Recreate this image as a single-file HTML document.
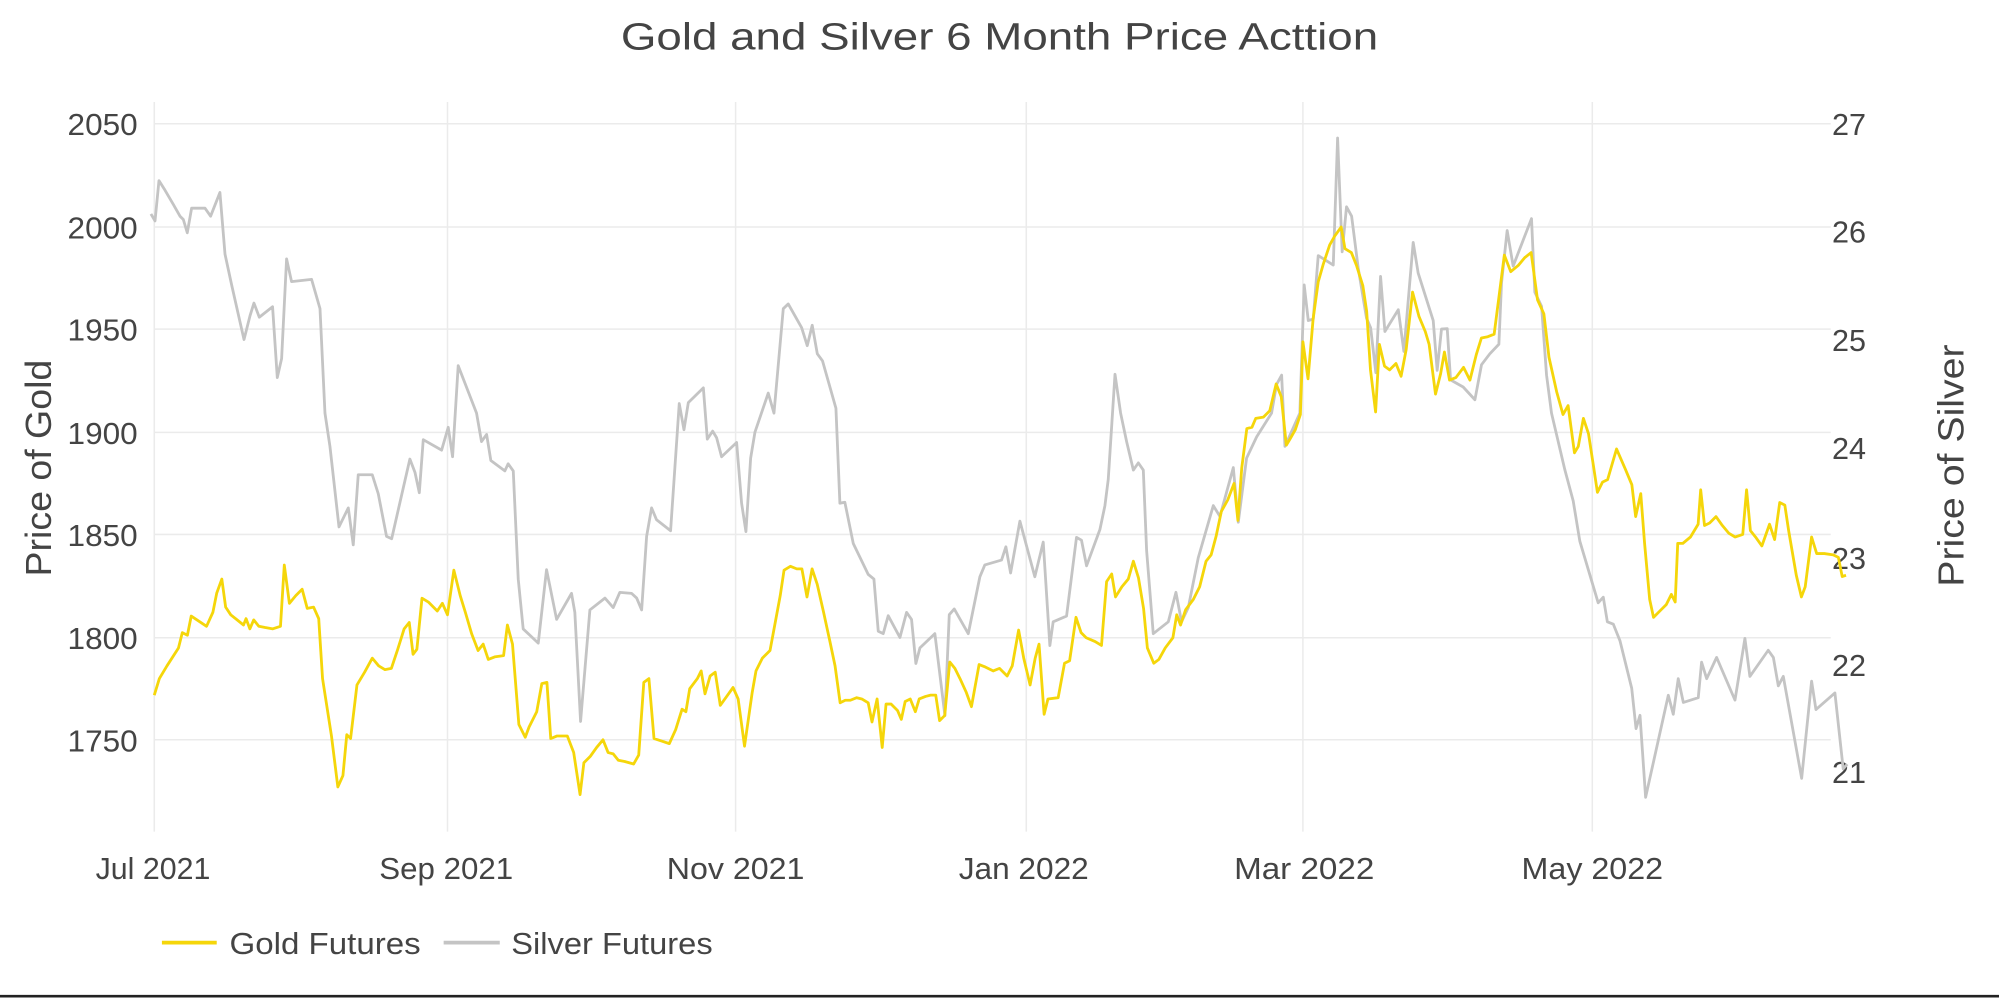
<!DOCTYPE html>
<html><head><meta charset="utf-8"><style>
html,body{margin:0;padding:0;background:#fff;}
svg{display:block;}
text{font-family:"Liberation Sans",sans-serif;fill:#444;}
</style></head><body>
<svg width="1999" height="1000" viewBox="0 0 1568 784" preserveAspectRatio="none" xmlns="http://www.w3.org/2000/svg">
<rect width="1568" height="784" fill="#fff"/>
<text x="784" y="39" font-size="30" text-anchor="middle" textLength="594" lengthAdjust="spacingAndGlyphs">Gold and Silver 6 Month Price Acttion</text>
<g stroke="#ebebeb" stroke-width="1.2">
<line x1="121" y1="97" x2="1436" y2="97"/><line x1="121" y1="178" x2="1436" y2="178"/><line x1="121" y1="258" x2="1436" y2="258"/><line x1="121" y1="339" x2="1436" y2="339"/><line x1="121" y1="419" x2="1436" y2="419"/><line x1="121" y1="500" x2="1436" y2="500"/><line x1="121" y1="580" x2="1436" y2="580"/>
<line x1="121" y1="80" x2="121" y2="652"/><line x1="351" y1="80" x2="351" y2="652"/><line x1="577" y1="80" x2="577" y2="652"/><line x1="805" y1="80" x2="805" y2="652"/><line x1="1022" y1="80" x2="1022" y2="652"/><line x1="1249" y1="80" x2="1249" y2="652"/>
</g>
<g font-size="24" text-anchor="end">
<text x="108" y="106" textLength="55" lengthAdjust="spacingAndGlyphs">2050</text><text x="108" y="187" textLength="55" lengthAdjust="spacingAndGlyphs">2000</text><text x="108" y="267" textLength="55" lengthAdjust="spacingAndGlyphs">1950</text><text x="108" y="348" textLength="55" lengthAdjust="spacingAndGlyphs">1900</text><text x="108" y="428" textLength="55" lengthAdjust="spacingAndGlyphs">1850</text><text x="108" y="509" textLength="55" lengthAdjust="spacingAndGlyphs">1800</text><text x="108" y="589" textLength="55" lengthAdjust="spacingAndGlyphs">1750</text>
</g>
<g font-size="24">
<text x="1437" y="106">27</text><text x="1437" y="190">26</text><text x="1437" y="275">25</text><text x="1437" y="360">24</text><text x="1437" y="446">23</text><text x="1437" y="530">22</text><text x="1437" y="614">21</text>
</g>
<g font-size="24" text-anchor="middle">
<text x="120" y="689" textLength="90" lengthAdjust="spacingAndGlyphs">Jul 2021</text><text x="350" y="689" textLength="105" lengthAdjust="spacingAndGlyphs">Sep 2021</text><text x="577" y="689" textLength="108" lengthAdjust="spacingAndGlyphs">Nov 2021</text><text x="803" y="689" textLength="102" lengthAdjust="spacingAndGlyphs">Jan 2022</text><text x="1023" y="689" textLength="110" lengthAdjust="spacingAndGlyphs">Mar 2022</text><text x="1249" y="689" textLength="111" lengthAdjust="spacingAndGlyphs">May 2022</text>
</g>
<text font-size="28" text-anchor="middle" transform="translate(40,367) rotate(-90)" textLength="170" lengthAdjust="spacingAndGlyphs">Price of Gold</text>
<text font-size="28" text-anchor="middle" transform="translate(1540,365) rotate(-90)" textLength="190" lengthAdjust="spacingAndGlyphs">Price of Silver</text>
<polyline fill="none" stroke="#c4c4c4" stroke-width="2.2" stroke-linejoin="round" points="118.4,167.7 121.6,173.2 124.7,141.6 129.4,149.1 135.9,160.2 141.2,169.5 143.8,172.1 146.9,182.5 150.3,163.2 160.8,163.2 165.2,169.5 172.5,150.9 176.5,199.3 181.7,223.4 191.4,266.2 196.1,247.6 199.2,237.6 203.4,248.7 213.8,240.5 217.5,296 220.9,281.1 224.8,203 228.7,220.8 244.4,219 251,242 254.9,323.9 258.8,349.9 265.9,413.1 273.2,398.2 277.1,427.2 281,372.2 292,372.2 296.7,387.1 303.2,420.5 307.2,422.4 321.5,359.9 325.5,370.3 328.9,386.3 332,344.7 346.4,352.9 351.6,335 355,358.1 359.4,286.7 373.8,323.9 377.7,346.2 381.7,340.6 385,361 396,369.2 398.6,363.6 402.6,369.2 406.5,454 410.4,493.1 422.2,504.2 428.7,446.6 436.6,485.6 448.3,465.2 450.9,480.1 455.4,565.6 462.7,478.2 474.5,468.9 481,476.3 486.2,464.4 495.4,465.2 499.4,468.9 503.3,478.2 507.2,420.5 511.1,398.2 515,407.5 526,416.1 532.8,316.4 536.5,336.9 539.9,315.7 551.7,304.1 554.8,344.3 559,338 562.1,343.2 566,358.1 577.8,346.9 581.7,394.5 585.1,416.8 588.8,359.2 592.2,338.7 602.6,308.2 607.1,323.9 614.4,242 618.3,238.3 628.8,256.9 633.2,271 637.1,255 641.1,277.4 645.2,283 655.7,320.1 658.8,394.5 662.7,393.8 669.3,426.1 681,450.3 685.5,454 688.9,494.9 692.8,496.8 696.7,482.7 705.9,499.8 711.1,480.1 715,485.6 718.4,520.2 721.6,507.9 733.3,496.8 741.2,561.1 744.6,481.9 748.5,477.4 759.5,496.8 768.6,452.2 772.5,442.9 785.6,439.1 789,428.7 792.7,449.2 800,408.6 811.7,452.2 818.3,425 823.5,506.1 826.1,487.5 836.6,483 844.4,421.3 848.3,423.5 852.3,443.6 862.8,415 866.7,396.4 869.3,375.9 874.6,293.4 879,323.9 883.7,346.2 889,368.5 892.9,362.9 896.8,368.5 899.4,431.7 904.6,496.8 916.4,487.5 922.4,464.4 926.8,487.5 932.1,476.3 939.9,437.3 951.7,396.4 956.9,404.9 967.4,366.6 971.3,409.4 977.8,359.2 985.7,342.5 997.4,323.9 1001.3,301.5 1005.3,294.1 1007.9,349.9 1019.6,323.9 1023,223.4 1026.2,251.3 1030.1,250.2 1034,200.4 1045.8,207.8 1049.2,108.2 1052.8,197.4 1056.2,162.1 1060.2,169.5 1065.4,210.4 1071.9,249.5 1075.1,256.9 1079.2,292.2 1082.9,216.7 1086.3,259.9 1096.8,242.8 1101.2,275.5 1108.5,190 1112.4,214.1 1124.2,251.3 1127.3,290.4 1130.7,258 1135.2,257.7 1137.8,297.8 1147.7,303.4 1156.9,313.4 1162.1,285.9 1168.6,277.4 1175.7,269.9 1177.8,221.6 1182.2,180.7 1186.9,208.6 1201.3,171.4 1203.9,229 1209.2,240.2 1213.1,294.1 1217,323.9 1227.5,368.5 1234,392.7 1239.2,424.3 1253.6,472.6 1257.6,468.2 1260.8,487.5 1265.5,489.4 1270.7,502.4 1279.9,539.6 1283.3,571.2 1286.4,560.8 1290.8,625.1 1308.6,545.1 1312.5,560 1316.4,532.1 1320.4,550.7 1332.1,547 1334.7,519.1 1338.7,532.1 1346.5,515.4 1360.9,548.9 1368.7,500.5 1372.6,530.3 1387,509.8 1391,515.4 1394.9,537.7 1398.8,530.3 1413.2,610.2 1421,534 1424.4,556.3 1439.3,543.3 1445.8,602.8 1449,599.1"/>
<polyline fill="none" stroke="#f5d60a" stroke-width="2.2" stroke-linejoin="round" points="121,545 125,532 131,522 140,508 143,496 147,498 150,483 156,487 162,491 167,480 170,465 174,454 177,476 181,482 186,486 191,490 193,485 196,493 199,486 203,491 208,492 214,493 220,491 223,443 227,473 232,467 237,462 241,477 246,476 250,485 253,532 260,577 265,617 269,608 272,576 275,579 280,537 286,527 292,516 297,522 302,525 307,524 312,509 317,493 321,488 324,513 327,509 331,469 336,472 343,479 347,473 351,482 356,447 361,467 365,480 370,497 375,510 379,505 383,517 388,515 395,514 398,490 402,505 407,568 412,578 415,570 421,558 425,536 429,535 432,579 437,577 445,577 450,590 455,623 458,598 463,593 468,586 473,580 477,590 481,591 485,596 490,597 497,599 501,592 505,535 509,532 513,579 519,581 525,583 530,572 535,556 538,558 541,540 547,532 550,526 553,544 557,530 561,527 565,553 570,546 575,539 579,548 584,585 590,543 593,526 598,516 604,510 612,467 615,447 620,444 625,446 629,446 633,468 637,446 641,458 646,480 651,503 655,522 659,551 663,549 667,549 672,547 676,548 681,551 684,566 688,548 692,586 695,552 699,552 704,557 707,564 710,550 714,548 718,558 721,548 726,546 730,545 734,545 737,565 741,561 745,519 749,524 753,532 758,543 762,554 768,521 773,523 779,526 784,524 790,530 794,522 799,494 803,516 808,537 812,516 815,505 819,560 822,548 830,547 835,520 839,518 844,484 848,496 852,500 859,503 864,506 868,456 872,450 875,468 880,460 885,454 889,440 893,453 897,477 900,508 905,520 909,517 914,508 920,500 923,482 926,490 930,478 936,470 941,460 946,440 950,435 954,420 958,401 963,392 968,379 971,408 974,367 978,336 982,335 985,328 991,327 996,322 1001,301 1005,311 1009,349 1012,344 1016,337 1020,325 1022,268 1026,297 1030,250 1034,221 1038,207 1043,192 1047,185 1052,178 1055,195 1060,198 1064,208 1069,224 1072,244 1075,290 1079,323 1082,270 1086,287 1090,290 1095,285 1099,295 1103,274 1108,229 1113,248 1118,260 1121,270 1126,309 1130,293 1133,276 1137,298 1142,296 1148,288 1153,298 1158,278 1162,265 1167,264 1172,262 1180,200 1185,213 1191,208 1196,202 1201,198 1206,235 1211,246 1215,280 1221,307 1226,325 1230,318 1235,355 1238,350 1242,328 1246,340 1250,366 1253,386 1257,378 1261,376 1268,352 1275,368 1280,380 1283,405 1287,387 1290,426 1294,470 1297,484 1303,478 1307,474 1311,466 1314,472 1316,426 1320,426 1326,421 1332,411 1334,384 1337,412 1341,410 1346,405 1351,412 1356,418 1361,421 1367,419 1370,384 1373,416 1377,421 1382,428 1388,411 1392,423 1396,394 1400,396 1403,416 1409,451 1413,468 1416,460 1421,421 1425,434 1431,434 1438,435 1442,437 1445,452 1448,451"/>
<line x1="127" y1="739" x2="170" y2="739" stroke="#f5d60a" stroke-width="3"/>
<text x="180" y="748" font-size="24" textLength="150" lengthAdjust="spacingAndGlyphs">Gold Futures</text>
<line x1="348" y1="739" x2="392" y2="739" stroke="#c4c4c4" stroke-width="3"/>
<text x="401" y="748" font-size="24" textLength="158" lengthAdjust="spacingAndGlyphs">Silver Futures</text>
<line x1="0" y1="781" x2="1568" y2="781" stroke="#222" stroke-width="2"/>
</svg>
</body></html>
